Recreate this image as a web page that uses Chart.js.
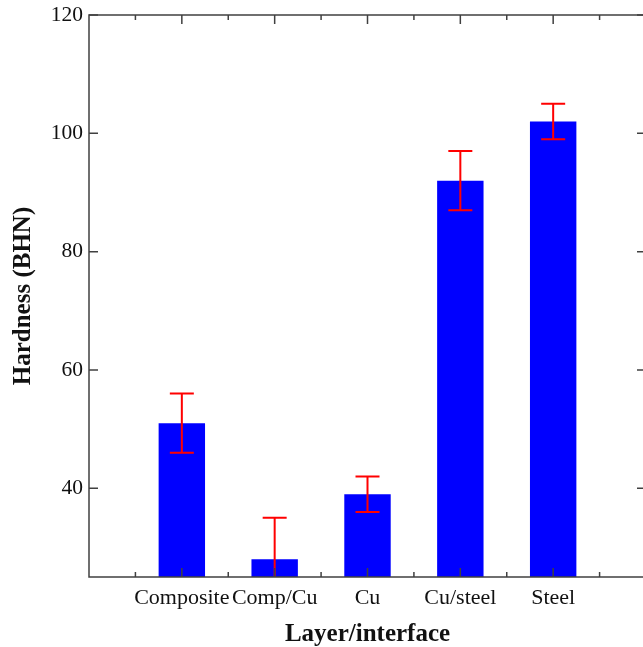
<!DOCTYPE html>
<html>
<head>
<meta charset="utf-8">
<script src="https://cdn.jsdelivr.net/npm/chart.js@4"></script>
<style>
  html, body { margin: 0; padding: 0; overflow: hidden; background: #fff; }
</style>
</head>
<body>
<canvas id="hardnessChart" width="650" height="647"></canvas>
<script>
// data
const layers = ['Composite', 'Comp/Cu', 'Cu', 'Cu/steel', 'Steel'];
const positions = [1, 2, 3, 4, 5];
const hardness = [51, 28, 39, 92, 102];
const errLow = [46, 21, 36, 87, 99];
const errHigh = [56, 35, 42, 97, 105];
const yTicks = [40, 60, 80, 100, 120];

const axisColor = '#404040';

// error bars + inward ticks on all four sides
const extras = {
    id: 'extras',
    afterDatasetsDraw(chart) {
        const ctx = chart.ctx;
        const area = chart.chartArea;
        const xs = chart.scales.x;
        const ys = chart.scales.y;

        ctx.save();
        ctx.beginPath();
        ctx.rect(area.left, area.top, area.right - area.left, area.bottom - area.top);
        ctx.clip();
        ctx.strokeStyle = '#ff0000';
        ctx.lineWidth = 2;
        for (let i = 0; i < positions.length; i++) {
            const x = xs.getPixelForValue(positions[i]);
            const lo = ys.getPixelForValue(errLow[i]);
            const hi = ys.getPixelForValue(errHigh[i]);
            ctx.beginPath();
            ctx.moveTo(x, lo);
            ctx.lineTo(x, hi);
            ctx.moveTo(x - 12, lo);
            ctx.lineTo(x + 12, lo);
            ctx.moveTo(x - 12, hi);
            ctx.lineTo(x + 12, hi);
            ctx.stroke();
        }
        ctx.restore();

        ctx.save();
        ctx.strokeStyle = axisColor;
        ctx.lineWidth = 1.5;
        ctx.beginPath();
        ctx.rect(area.left, area.top, area.right - area.left, area.bottom - area.top);
        ctx.stroke();

        ctx.beginPath();
        for (let v = 0.5; v < xs.max; v += 0.5) {
            const x = xs.getPixelForValue(v);
            const len = Number.isInteger(v) ? 9 : 5;
            ctx.moveTo(x, area.bottom);
            ctx.lineTo(x, area.bottom - len);
            ctx.moveTo(x, area.top);
            ctx.lineTo(x, area.top + len);
        }
        yTicks.forEach(v => {
            const y = ys.getPixelForValue(v);
            ctx.moveTo(area.left, y);
            ctx.lineTo(area.left + 9, y);
            ctx.moveTo(area.right, y);
            ctx.lineTo(area.right - 9, y);
        });
        ctx.stroke();
        ctx.restore();
    }
};

const ctx = document.getElementById('hardnessChart').getContext('2d');
const chart = new Chart(ctx, {
    type: 'bar',
    data: {
        datasets: [{
            data: positions.map((p, i) => ({ x: p, y: hardness[i] })),
            backgroundColor: '#0000ff',
            borderWidth: 0,
            categoryPercentage: 1,
            barPercentage: 0.5
        }]
    },
    options: {
        responsive: false,
        animation: false,
        layout: { padding: { top: 15, right: 4, left: 0, bottom: 0 } },
        plugins: {
            legend: { display: false },
            tooltip: { enabled: false }
        },
        scales: {
            x: {
                type: 'linear',
                offset: false,
                min: 0,
                max: 6,
                grid: { display: false, drawTicks: false, offset: false },
                border: { display: false },
                afterBuildTicks: (scale) => {
                    scale.ticks = positions.map(v => ({ value: v }));
                },
                afterFit: (scale) => {
                    scale.height = 70;
                    scale.paddingLeft = 0;
                    scale.paddingRight = 0;
                },
                ticks: {
                    autoSkip: false,
                    maxRotation: 0,
                    padding: 8,
                    color: '#111',
                    font: { family: 'Liberation Serif', size: 22 },
                    callback: (v) => layers[positions.indexOf(v)]
                },
                title: {
                    display: true,
                    text: 'Layer/interface',
                    color: '#111',
                    padding: { top: 0, bottom: -3 },
                    font: { family: 'Liberation Serif', size: 25, weight: 'bold' }
                }
            },
            y: {
                min: 25,
                max: 120,
                grid: { display: false, drawTicks: false },
                border: { display: false },
                afterBuildTicks: (scale) => {
                    scale.ticks = yTicks.map(v => ({ value: v }));
                },
                afterFit: (scale) => {
                    scale.width = 89;
                    scale.paddingTop = 0;
                    scale.paddingBottom = 0;
                },
                ticks: {
                    padding: 6,
                    color: '#111',
                    font: { family: 'Liberation Serif', size: 21.5 }
                },
                title: {
                    display: true,
                    text: 'Hardness (BHN)',
                    color: '#111',
                    padding: { top: 9, bottom: 0 },
                    font: { family: 'Liberation Serif', size: 25, weight: 'bold' }
                }
            }
        }
    },
    plugins: [extras]
});
</script>
</body>
</html>
